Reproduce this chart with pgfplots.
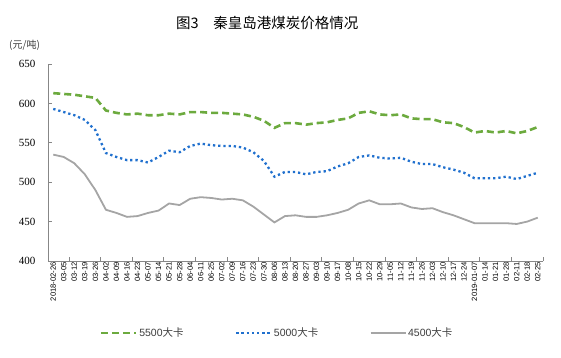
\documentclass[border=0pt]{standalone}
\usepackage{fontspec}
\usepackage{pgfplots}
\usepackage{pgfplotstable}
\pgfplotsset{compat=1.18}
\setmainfont{Liberation Sans}
\newfontfamily\cjk{Noto Sans CJK SC}
\newfontfamily\serif{Liberation Serif}
\definecolor{cA}{RGB}{108,170,62}
\definecolor{cB}{RGB}{32,112,206}
\definecolor{cC}{RGB}{165,165,165}
\definecolor{axgray}{RGB}{135,135,135}
\definecolor{txt}{RGB}{60,60,60}
\pgfplotstableread{
i a b c
0 613 593 535
1 612 589 532
2 611 585 524
3 609 579 510
4 607 566 490
5 591 537 465
6 588 532 461
7 586 528 456
8 587 528 457
9 585 525 461
10 585 532 464
11 587 540 473
12 586 538 471
13 589 546 479
14 589 549 481
15 588 547 480
16 588 546 478
17 587 546 479
18 586 544 477
19 583 538 469
20 578 527 459
21 569 507 449
22 575 513 457
23 575 513 458
24 573 510 456
25 575 513 456
26 576 514 458
27 579 520 461
28 581 524 465
29 588 532 473
30 590 534 477
31 586 531 472
32 585 530 472
33 586 531 473
34 581 526 468
35 580 523 466
36 580 523 467
37 576 519 462
38 575 516 458
39 570 512 453
40 563 505 448
41 565 505 448
42 563 505 448
43 565 507 448
44 562 504 447
45 565 508 450
46 570 512 455
}\data
\begin{document}
\begin{tikzpicture}
\path[use as bounding box] (0pt,0pt) rectangle (561pt,357pt);
\node[anchor=west, inner sep=0pt] at (176pt,334pt) {\cjk\fontsize{14.5}{16}\selectfont 图3\hspace{1em}秦皇岛港煤炭价格情况};
\node[anchor=west, inner sep=0pt, text=txt] at (9pt,312pt) {\cjk\fontsize{10}{12}\selectfont (元/吨)};
\begin{axis}[
  at={(48pt,96pt)}, anchor=south west, scale only axis,
  width=495pt, height=197pt,
  xmin=-0.5, xmax=46.5, ymin=400, ymax=650,
  ytick={400,450,...,650},
  xtick={0,...,46},
  xticklabels={2018-02-26,03-05,03-12,03-19,03-26,04-02,04-09,04-16,04-23,05-07,05-14,05-21,05-28,06-04,06-11,06-25,07-02,07-09,07-16,07-23,07-30,08-06,08-13,08-20,08-27,09-03,09-10,09-17,10-08,10-15,10-22,10-29,11-05,11-12,11-19,11-26,12-03,12-10,12-17,12-24,2019-01-07,01-14,01-21,01-28,02-11,02-18,02-25},
  minor xtick={1.5,4.5,...,46.5},
  axis x line*=bottom, axis y line*=left,
  axis line style={color=axgray, line width=0.8pt, -},
  tick align=inside,
  major tick length=4pt, minor tick length=4pt,
  major x tick style={draw=none},
  minor x tick style={color=axgray, line width=0.8pt},
  major y tick style={color=axgray, line width=0.8pt},
  /pgf/number format/assume math mode=true,
  xticklabel style={rotate=90, anchor=east, inner sep=1pt, font=\fontsize{7.6}{8}\selectfont},
  yticklabel style={font=\serif\fontsize{11}{12}\selectfont, xshift=-9pt},
  legend style={at={(axis description cs:0.105,-0.3655)}, anchor=west, draw=none, fill=none,
    inner sep=0pt, legend columns=3, font=\fontsize{10.5}{12}\selectfont, text=txt,
    /tikz/every even column/.append style={column sep=50pt}, nodes={inner sep=1.5pt}},
  legend image code/.code={\draw[#1] (0pt,0pt) -- (35pt,0pt);},
  clip=false,
]
\addplot[color=cA, line width=2.6pt, dash pattern=on 7pt off 4pt, mark=none] table[x=i,y=a]{\data};
\addlegendentry{5500{\cjk 大卡}}
\addplot[color=cB, line width=2.3pt, dash pattern=on 2.3pt off 2.9pt, mark=none] table[x=i,y=b]{\data};
\addlegendentry{5000{\cjk 大卡}}
\addplot[color=cC, line width=1.8pt, mark=none] table[x=i,y=c]{\data};
\addlegendentry{4500{\cjk 大卡}}
\end{axis}
\end{tikzpicture}
\end{document}
